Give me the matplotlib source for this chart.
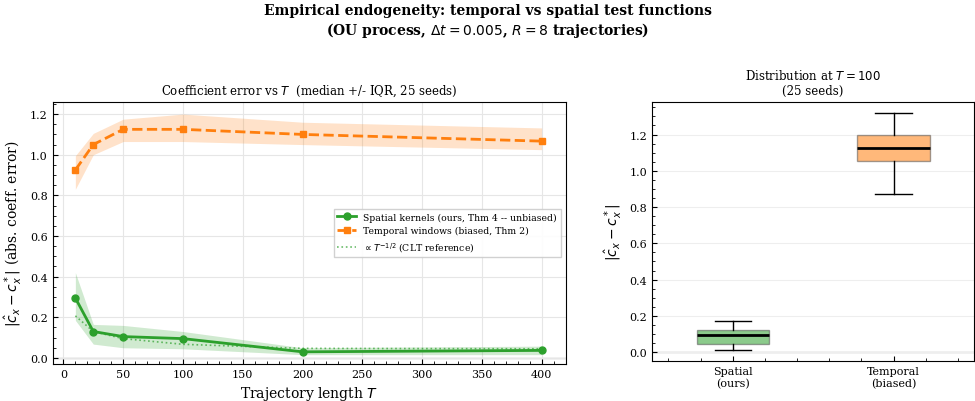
import matplotlib
matplotlib.use("Agg")
import matplotlib.pyplot as plt
import numpy as np

plt.rcParams["font.family"] = "DejaVu Serif"
plt.rcParams["xtick.direction"] = "in"
plt.rcParams["ytick.direction"] = "in"
plt.rcParams["xtick.minor.visible"] = True
plt.rcParams["ytick.minor.visible"] = True

# trajectory lengths
T = [10, 25, 50, 100, 200, 400]

# spatial kernels: median and IQR
spatial_med = [0.295, 0.13, 0.105, 0.095, 0.03, 0.037]
spatial_lo = [0.185, 0.068, 0.05, 0.045, 0.016, 0.016]
spatial_hi = [0.42, 0.165, 0.16, 0.13, 0.05, 0.058]

# temporal windows: median and IQR
temporal_med = [0.925, 1.05, 1.125, 1.125, 1.1, 1.067]
temporal_lo = [0.83, 1.0, 1.065, 1.065, 1.05, 1.025]
temporal_hi = [0.995, 1.105, 1.175, 1.2, 1.16, 1.132]

# CLT reference line
clt_ref = [0.207, 0.13, 0.095, 0.067, 0.047, 0.045]

# box stats at T=100
box_labels = ["Spatial\n(ours)", "Temporal\n(biased)"]
box_whislo = [0.01, 0.87]
box_q1 = [0.045, 1.055]
box_med = [0.095, 1.125]
box_q3 = [0.12, 1.2]
box_whishi = [0.17, 1.32]

green = "#2ca02c"
orange = "#ff7f0e"

fig = plt.figure(figsize=(9.75, 4.02), dpi=100)
ax1 = fig.add_axes([0.054, 0.092, 0.526, 0.652])
ax2 = fig.add_axes([0.669, 0.099, 0.330, 0.645])

# left panel
ax1.fill_between(T, spatial_lo, spatial_hi, color=green, alpha=0.22, lw=0)
ax1.fill_between(T, temporal_lo, temporal_hi, color=orange, alpha=0.22, lw=0)
ax1.plot(T, spatial_med, "-o", color=green, lw=2, ms=5,
         label="Spatial kernels (ours, Thm 4 -- unbiased)")
ax1.plot(T, temporal_med, "--s", color=orange, lw=2, ms=5,
         label="Temporal windows (biased, Thm 2)")
ax1.plot(T, clt_ref, ":", color=green, lw=1.2, alpha=0.7,
         label=r"$\propto T^{-1/2}$ (CLT reference)")
ax1.axhline(0, color="#bbbbbb", lw=1, zorder=0)
ax1.set_xlim(-9, 420)
ax1.set_ylim(-0.03, 1.26)
ax1.set_xticks(np.arange(0, 401, 50))
ax1.set_yticks(np.arange(0, 1.21, 0.2))
ax1.grid(True, color="#e6e6e6", lw=0.8)
ax1.set_axisbelow(True)
ax1.tick_params(labelsize=8)
ax1.set_xlabel(r"Trajectory length $T$", fontsize=10)
ax1.set_ylabel(r"$|\hat{c}_x - c_x^*|$ (abs. coeff. error)", fontsize=10)
ax1.set_title(r"Coefficient error vs $T$  (median +/- IQR, 25 seeds)", fontsize=8.5)
ax1.legend(loc="center right", fontsize=6.7, framealpha=0.9, edgecolor="#cccccc",
           fancybox=False)

# right panel
stats = []
for i in range(2):
    stats.append({"label": box_labels[i], "whislo": box_whislo[i], "q1": box_q1[i],
                  "med": box_med[i], "q3": box_q3[i], "whishi": box_whishi[i]})
bp = ax2.bxp(stats, positions=[1, 2], widths=0.45, patch_artist=True,
             showfliers=False,
             medianprops=dict(color="black", lw=2),
             whiskerprops=dict(color="black", lw=1),
             capprops=dict(color="black", lw=1))
for patch, c in zip(bp["boxes"], [green, orange]):
    patch.set_facecolor(c)
    patch.set_alpha(0.55)
    patch.set_edgecolor("#555555")
ax2.axhline(0, color="#bbbbbb", lw=1, zorder=0)
ax2.set_xlim(0.5, 2.5)
ax2.set_ylim(-0.05, 1.38)
ax2.set_yticks(np.arange(0, 1.21, 0.2))
ax2.grid(True, axis="y", color="#eeeeee", lw=0.8)
ax2.set_axisbelow(True)
ax2.tick_params(labelsize=8)
ax2.set_ylabel(r"$|\hat{c}_x - c_x^*|$", fontsize=10)
ax2.set_title("Distribution at $T = 100$\n(25 seeds)", fontsize=8.5)

fig.suptitle("Empirical endogeneity: temporal vs spatial test functions\n"
             r"(OU process, $\Delta t = 0.005$, $R = 8$ trajectories)",
             fontsize=10, fontweight="bold", y=0.99)

fig.savefig("out.png", dpi=100)
